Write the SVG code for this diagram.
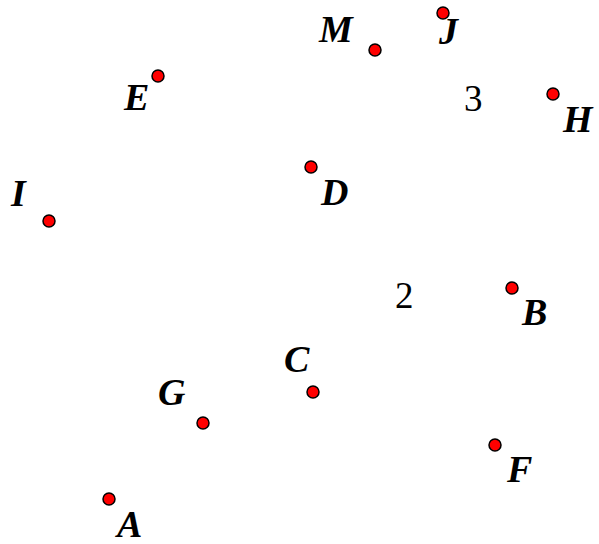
<svg xmlns="http://www.w3.org/2000/svg" width="599" height="544" viewBox="0 0 599 544">
<style>
.pt{fill:#ff0000;stroke:#000;stroke-width:1.5}
.lb{font-family:"Liberation Serif","Times New Roman",serif;font-size:38px;font-weight:bold;font-style:italic;fill:#000}
.num{font-family:"Liberation Serif","Times New Roman",serif;font-size:37px;fill:#000}
</style>
<rect width="599" height="544" fill="#fff"/>
<g id="connectors"></g>
<g id="M"><circle class="pt" cx="375" cy="50" r="6"/><text class="lb" x="319" y="42">M</text></g>
<g id="J"><circle class="pt" cx="443" cy="13" r="6"/><text class="lb" x="439" y="44">J</text></g>
<g id="H"><circle class="pt" cx="553" cy="94" r="6"/><text class="lb" x="563" y="132">H</text></g>
<g id="E"><circle class="pt" cx="158" cy="76" r="6"/><text class="lb" x="124" y="110">E</text></g>
<g id="I"><circle class="pt" cx="49" cy="221" r="6"/><text class="lb" x="11" y="206">I</text></g>
<g id="D"><circle class="pt" cx="311" cy="167" r="6"/><text class="lb" x="321" y="205">D</text></g>
<g id="B"><circle class="pt" cx="512" cy="288" r="6"/><text class="lb" x="522" y="325">B</text></g>
<g id="C"><circle class="pt" cx="313" cy="392" r="6"/><text class="lb" x="284" y="372">C</text></g>
<g id="G"><circle class="pt" cx="203" cy="423" r="6"/><text class="lb" x="158" y="405">G</text></g>
<g id="F"><circle class="pt" cx="495" cy="445" r="6"/><text class="lb" x="507" y="482">F</text></g>
<g id="A"><circle class="pt" cx="109" cy="499" r="6"/><text class="lb" x="117" y="537">A</text></g>
<g id="n3"><text class="num" x="464" y="111">3</text></g>
<g id="n2"><text class="num" x="395" y="308">2</text></g>
</svg>
